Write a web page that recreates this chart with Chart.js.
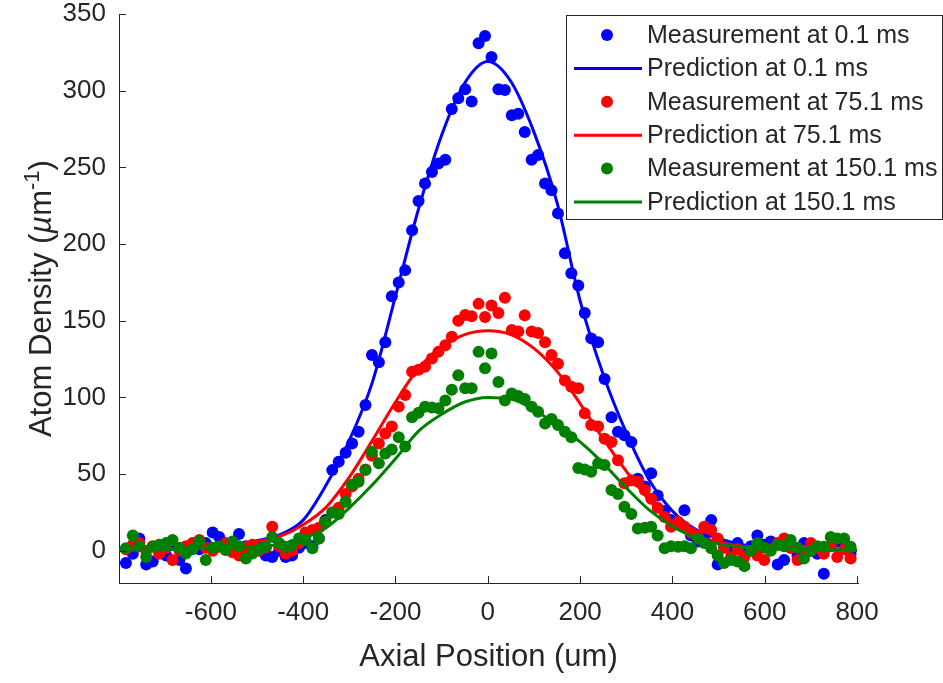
<!DOCTYPE html>
<html>
<head>
<meta charset="utf-8">
<script src="https://cdn.jsdelivr.net/npm/chart.js@4.4.0/dist/chart.umd.min.js"></script>
<style>
  html, body { margin: 0; padding: 0; background: #fff; }
  #wrap { width: 943px; height: 683px; position: relative; }
</style>
</head>
<body>
<div id="wrap"><canvas id="chart"></canvas></div>
<script>
// axial positions of the measured points (um)
const xPos = [
  -784, -769, -755, -740, -726, -712, -697, -683, -668, -654,
  -640, -625, -611, -596, -582, -568, -553, -539, -524, -510,
  -496, -481, -467, -452, -438, -424, -409, -395, -380, -366,
  -352, -337, -323, -308, -294, -280, -265, -251, -236, -222,
  -208, -193, -179, -164, -150, -136, -121, -107, -92, -78,
  -64, -49, -35, -20, -6, 8, 23, 37, 52, 66,
  80, 95, 109, 124, 138, 152, 167, 181, 196, 210,
  224, 239, 253, 268, 282, 296, 311, 325, 340, 354,
  368, 383, 397, 412, 426, 440, 455, 469, 484, 498,
  512, 527, 541, 556, 570, 584, 599, 613, 628, 642,
  656, 671, 685, 700, 714, 728, 743, 757, 772, 786
];

const meas01 = [
  -8, -2, 8, -9, -7, 2, -3, 4, -6, -11.5,
  3, 1, 5, 12, 9, 4, 2, 11, 3, -1,
  2, -3, -4, 0, -4, -3, 2, 5, 3, 8,
  20, 52.6, 58, 64, 70, 77.6, 95, 127.6, 123, 136,
  166, 175, 183, 209, 228, 239.5, 247, 252.5, 255, 288,
  295, 301, 293, 331, 335.7, 322, 301, 300.5, 284, 285,
  273, 255, 258, 239.5, 235, 220, 194, 181, 173, 155,
  138.5, 136, 112, 87, 77.6, 75.4, 71, 47, 42, 50.5,
  36, 26, 20, 18, 26.5, 10, 6, 8, 20, -9,
  3, 0, 5, -2, 3, 10, 4, 6, -9, -6,
  2, -3, 5, 0, -2, -15, 3, 6, 2, -2
];

const meas75 = [
  1, 4, 5, 0, 3, -2, 2, -6, 0, 3,
  5, 7, 2, 0, 2.6, 5, -1, -3, 1, 4,
  0, 2, 15.6, 3, -2, 0, 5, 12, 13.5, 15,
  19, 25, 28, 37, 42, 47, 53, 62, 70, 76.5,
  81, 94, 101.5, 116.7, 118, 120, 125.4, 129.7, 134, 139.5,
  150, 153.7, 153, 161, 152.5, 160, 155, 165, 144, 143,
  153.6, 143, 142, 136, 127.6, 122, 111, 107, 106, 89.6,
  82, 81, 73, 71, 59, 44, 46, 45, 39.6, 34,
  28, 22, 15.6, 19, 15.6, 12, 10, 15.6, 13.5, 8,
  2, -4, 1, -4, 0, -3, -6, 1, 5, 8,
  2, -6, 0, 5, 2, -2, 3, -4, 1, -5
];

const meas150 = [
  1.6, 10, 3, -4, 2.6, 4, 5, 7, 2, -1.7,
  1, 6, -6, 2, 3, 0.5, 6, 3, -5, -1.7,
  1, 2.6, 9, 5, 2.6, 3.7, 8, 7, 1.6, 8,
  19, 25, 24, 32, 43, 45, 52.6, 64.5, 57, 63.5,
  66, 74, 68, 87, 90, 94, 93.5, 93, 98, 105,
  114.5, 106, 106, 129.7, 119, 128.7, 110, 98, 102.6, 101,
  99, 94, 90.6, 83, 86, 82, 77.6, 74, 54, 53,
  51.5, 57, 56, 39.6, 37, 28.7, 24, 14.6, 15, 15.6,
  10, 1.6, 3, 2.6, 3, 1.6, 8, 5, 1.6, -3,
  -8, -6, -7, -10, 0, 5, 2, 0, 4, 3,
  7, 2, -5, 0, 3, 2.6, 9, 8, 8, 2.6
];

// prediction curves, read every 50 um
const predX = [
  -800, -750, -700, -650, -600, -550, -500, -450, -400, -350, -300,
  -250, -200, -150, -100, -50, 0, 50, 100, 150, 200,
  250, 300, 350, 400, 450, 500, 550, 600, 650, 700, 750, 800
];
const pred01 = [
  0.2, 0.5, 1, 1.5, 2.5, 4, 6.5, 10.5, 20, 43, 72,
  110, 166, 223, 271, 305, 319, 306, 273, 227, 163,
  115, 77, 46, 26, 14, 8, 4, 2.5, 1.5, 1, 0.5, 0.2
];
const pred75 = [
  0.3, 0.6, 1, 2, 3, 4.5, 6, 9.5, 17, 28.5, 48,
  72, 97, 119, 133, 141, 143.5, 141, 132, 117, 96,
  73, 52, 33, 19, 10, 5.5, 3, 2, 1.2, 0.8, 0.5, 0.3
];
const pred150 = [
  0.5, 0.7, 1, 1.5, 2, 2.5, 3, 4, 8, 15, 28,
  43, 60, 78, 89, 97, 100, 99, 92, 82, 71,
  57, 41, 26.5, 16, 8.5, 4.5, 2.5, 1.5, 1, 0.7, 0.6, 0.5
];

const xTicks = [-600, -400, -200, 0, 200, 400, 600, 800];
const yTicks = [0, 50, 100, 150, 200, 250, 300, 350];

const legendItems = [
  { label: 'Measurement at 0.1 ms', kind: 'dot', color: '#0000ff' },
  { label: 'Prediction at 0.1 ms', kind: 'line', color: '#0000ff' },
  { label: 'Measurement at 75.1 ms', kind: 'dot', color: '#ff0000' },
  { label: 'Prediction at 75.1 ms', kind: 'line', color: '#ff0000' },
  { label: 'Measurement at 150.1 ms', kind: 'dot', color: '#008000' },
  { label: 'Prediction at 150.1 ms', kind: 'line', color: '#008000' }
];

const axisColor = '#262626';
const fontFamily = '"Liberation Sans", Arial, Helvetica, sans-serif';
const tickSize = 26;
const labelSize = 31;

function pts(xs, ys) {
  return xs.map((x, i) => ({ x: x, y: ys[i] }));
}

function measSet(ys, color, order) {
  return {
    data: pts(xPos, ys),
    showLine: false,
    pointRadius: 6,
    pointHoverRadius: 6,
    pointBorderWidth: 0,
    pointBackgroundColor: color,
    borderColor: color,
    order: order,
    clip: false
  };
}

function predSet(ys, color, order) {
  return {
    data: pts(predX, ys),
    showLine: true,
    pointRadius: 0,
    borderWidth: 3,
    borderColor: color,
    cubicInterpolationMode: 'monotone',
    order: order
  };
}

// MATLAB style: inward ticks, rotated y label with superscript, legend box
const matlabLook = {
  id: 'matlabLook',
  afterDraw(chart) {
    const ctx = chart.ctx;
    const xs = chart.scales.x, ys = chart.scales.y;
    const area = chart.chartArea;
    ctx.save();
    ctx.strokeStyle = axisColor;
    ctx.lineWidth = 1;
    ctx.beginPath();
    xTicks.forEach(v => {
      const px = Math.round(xs.getPixelForValue(v)) + 0.5;
      ctx.moveTo(px, area.bottom);
      ctx.lineTo(px, area.bottom - 7);
    });
    yTicks.forEach(v => {
      const py = Math.round(ys.getPixelForValue(v)) + 0.5;
      ctx.moveTo(area.left, py);
      ctx.lineTo(area.left + 7, py);
    });
    ctx.stroke();

    // y axis title
    const parts = [
      { t: 'Atom Density (', f: labelSize + 'px ' + fontFamily, dy: 0 },
      { t: 'µ', f: 'italic ' + labelSize + 'px ' + fontFamily, dy: 0 },
      { t: 'm', f: labelSize + 'px ' + fontFamily, dy: 0 },
      { t: '-1', f: Math.round(labelSize * 0.7) + 'px ' + fontFamily, dy: -labelSize * 0.4 },
      { t: ')', f: labelSize + 'px ' + fontFamily, dy: 0 }
    ];
    let total = 0;
    parts.forEach(p => { ctx.font = p.f; p.w = ctx.measureText(p.t).width; total += p.w; });
    ctx.translate(40, (area.top + area.bottom) / 2);
    ctx.rotate(-Math.PI / 2);
    ctx.fillStyle = axisColor;
    ctx.textBaseline = 'alphabetic';
    ctx.textAlign = 'left';
    let cx = -total / 2;
    parts.forEach(p => {
      ctx.font = p.f;
      ctx.fillText(p.t, cx, labelSize * 0.36 + p.dy);
      cx += p.w;
    });
    ctx.restore();

    // legend
    ctx.save();
    const bx = 566.5, by = 15.5, bw = 376, bh = 204;
    ctx.fillStyle = '#ffffff';
    ctx.fillRect(bx, by, bw, bh);
    ctx.strokeStyle = axisColor;
    ctx.lineWidth = 1;
    ctx.strokeRect(bx, by, bw, bh);
    ctx.font = '25px ' + fontFamily;
    ctx.textBaseline = 'middle';
    ctx.textAlign = 'left';
    legendItems.forEach((it, i) => {
      const cy = 35 + i * 33.4;
      if (it.kind === 'dot') {
        ctx.fillStyle = it.color;
        ctx.beginPath();
        ctx.arc(607, cy, 6, 0, Math.PI * 2);
        ctx.fill();
      } else {
        ctx.strokeStyle = it.color;
        ctx.lineWidth = 3;
        ctx.beginPath();
        ctx.moveTo(574, cy);
        ctx.lineTo(642, cy);
        ctx.stroke();
      }
      ctx.fillStyle = axisColor;
      ctx.fillText(it.label, 647, cy + 1);
    });
    ctx.restore();
  }
};

new Chart(document.getElementById('chart'), {
  type: 'scatter',
  data: {
    datasets: [
      predSet(pred150, '#008000', 1),
      measSet(meas150, '#008000', 2),
      predSet(pred75, '#ff0000', 3),
      measSet(meas75, '#ff0000', 4),
      predSet(pred01, '#0000ff', 5),
      measSet(meas01, '#0000ff', 6)
    ]
  },
  options: {
    responsive: true,
    maintainAspectRatio: false,
    animation: false,
    devicePixelRatio: 1,
    layout: { padding: { top: 14, right: 85, left: 0, bottom: 0 } },
    plugins: {
      legend: { display: false },
      tooltip: { enabled: false }
    },
    scales: {
      x: {
        type: 'linear',
        min: -799,
        max: 802,
        afterBuildTicks: scale => { scale.ticks = xTicks.map(v => ({ value: v })); },
        afterFit: scale => {
          scale.height = 100;
          scale.paddingLeft = 0;
          scale.paddingRight = 0;
        },
        grid: { display: false, drawTicks: false },
        border: { display: true, color: axisColor, width: 1 },
        ticks: {
          color: axisColor,
          font: { family: fontFamily, size: tickSize },
          padding: 14,
          maxRotation: 0,
          callback: v => String(v)
        },
        title: {
          display: true,
          text: 'Axial Position (um)',
          color: axisColor,
          font: { family: fontFamily, size: labelSize, lineHeight: 1.2 },
          padding: { top: 0, bottom: 7 }
        }
      },
      y: {
        type: 'linear',
        min: -21,
        max: 350,
        afterBuildTicks: scale => { scale.ticks = yTicks.map(v => ({ value: v })); },
        afterFit: scale => {
          scale.width = 119;
          scale.paddingTop = 0;
          scale.paddingBottom = 0;
        },
        grid: { display: false, drawTicks: false },
        border: { display: true, color: axisColor, width: 1 },
        ticks: {
          color: axisColor,
          font: { family: fontFamily, size: tickSize },
          padding: 13,
          callback: v => String(v)
        }
      }
    }
  },
  plugins: [matlabLook]
});
</script>
</body>
</html>
